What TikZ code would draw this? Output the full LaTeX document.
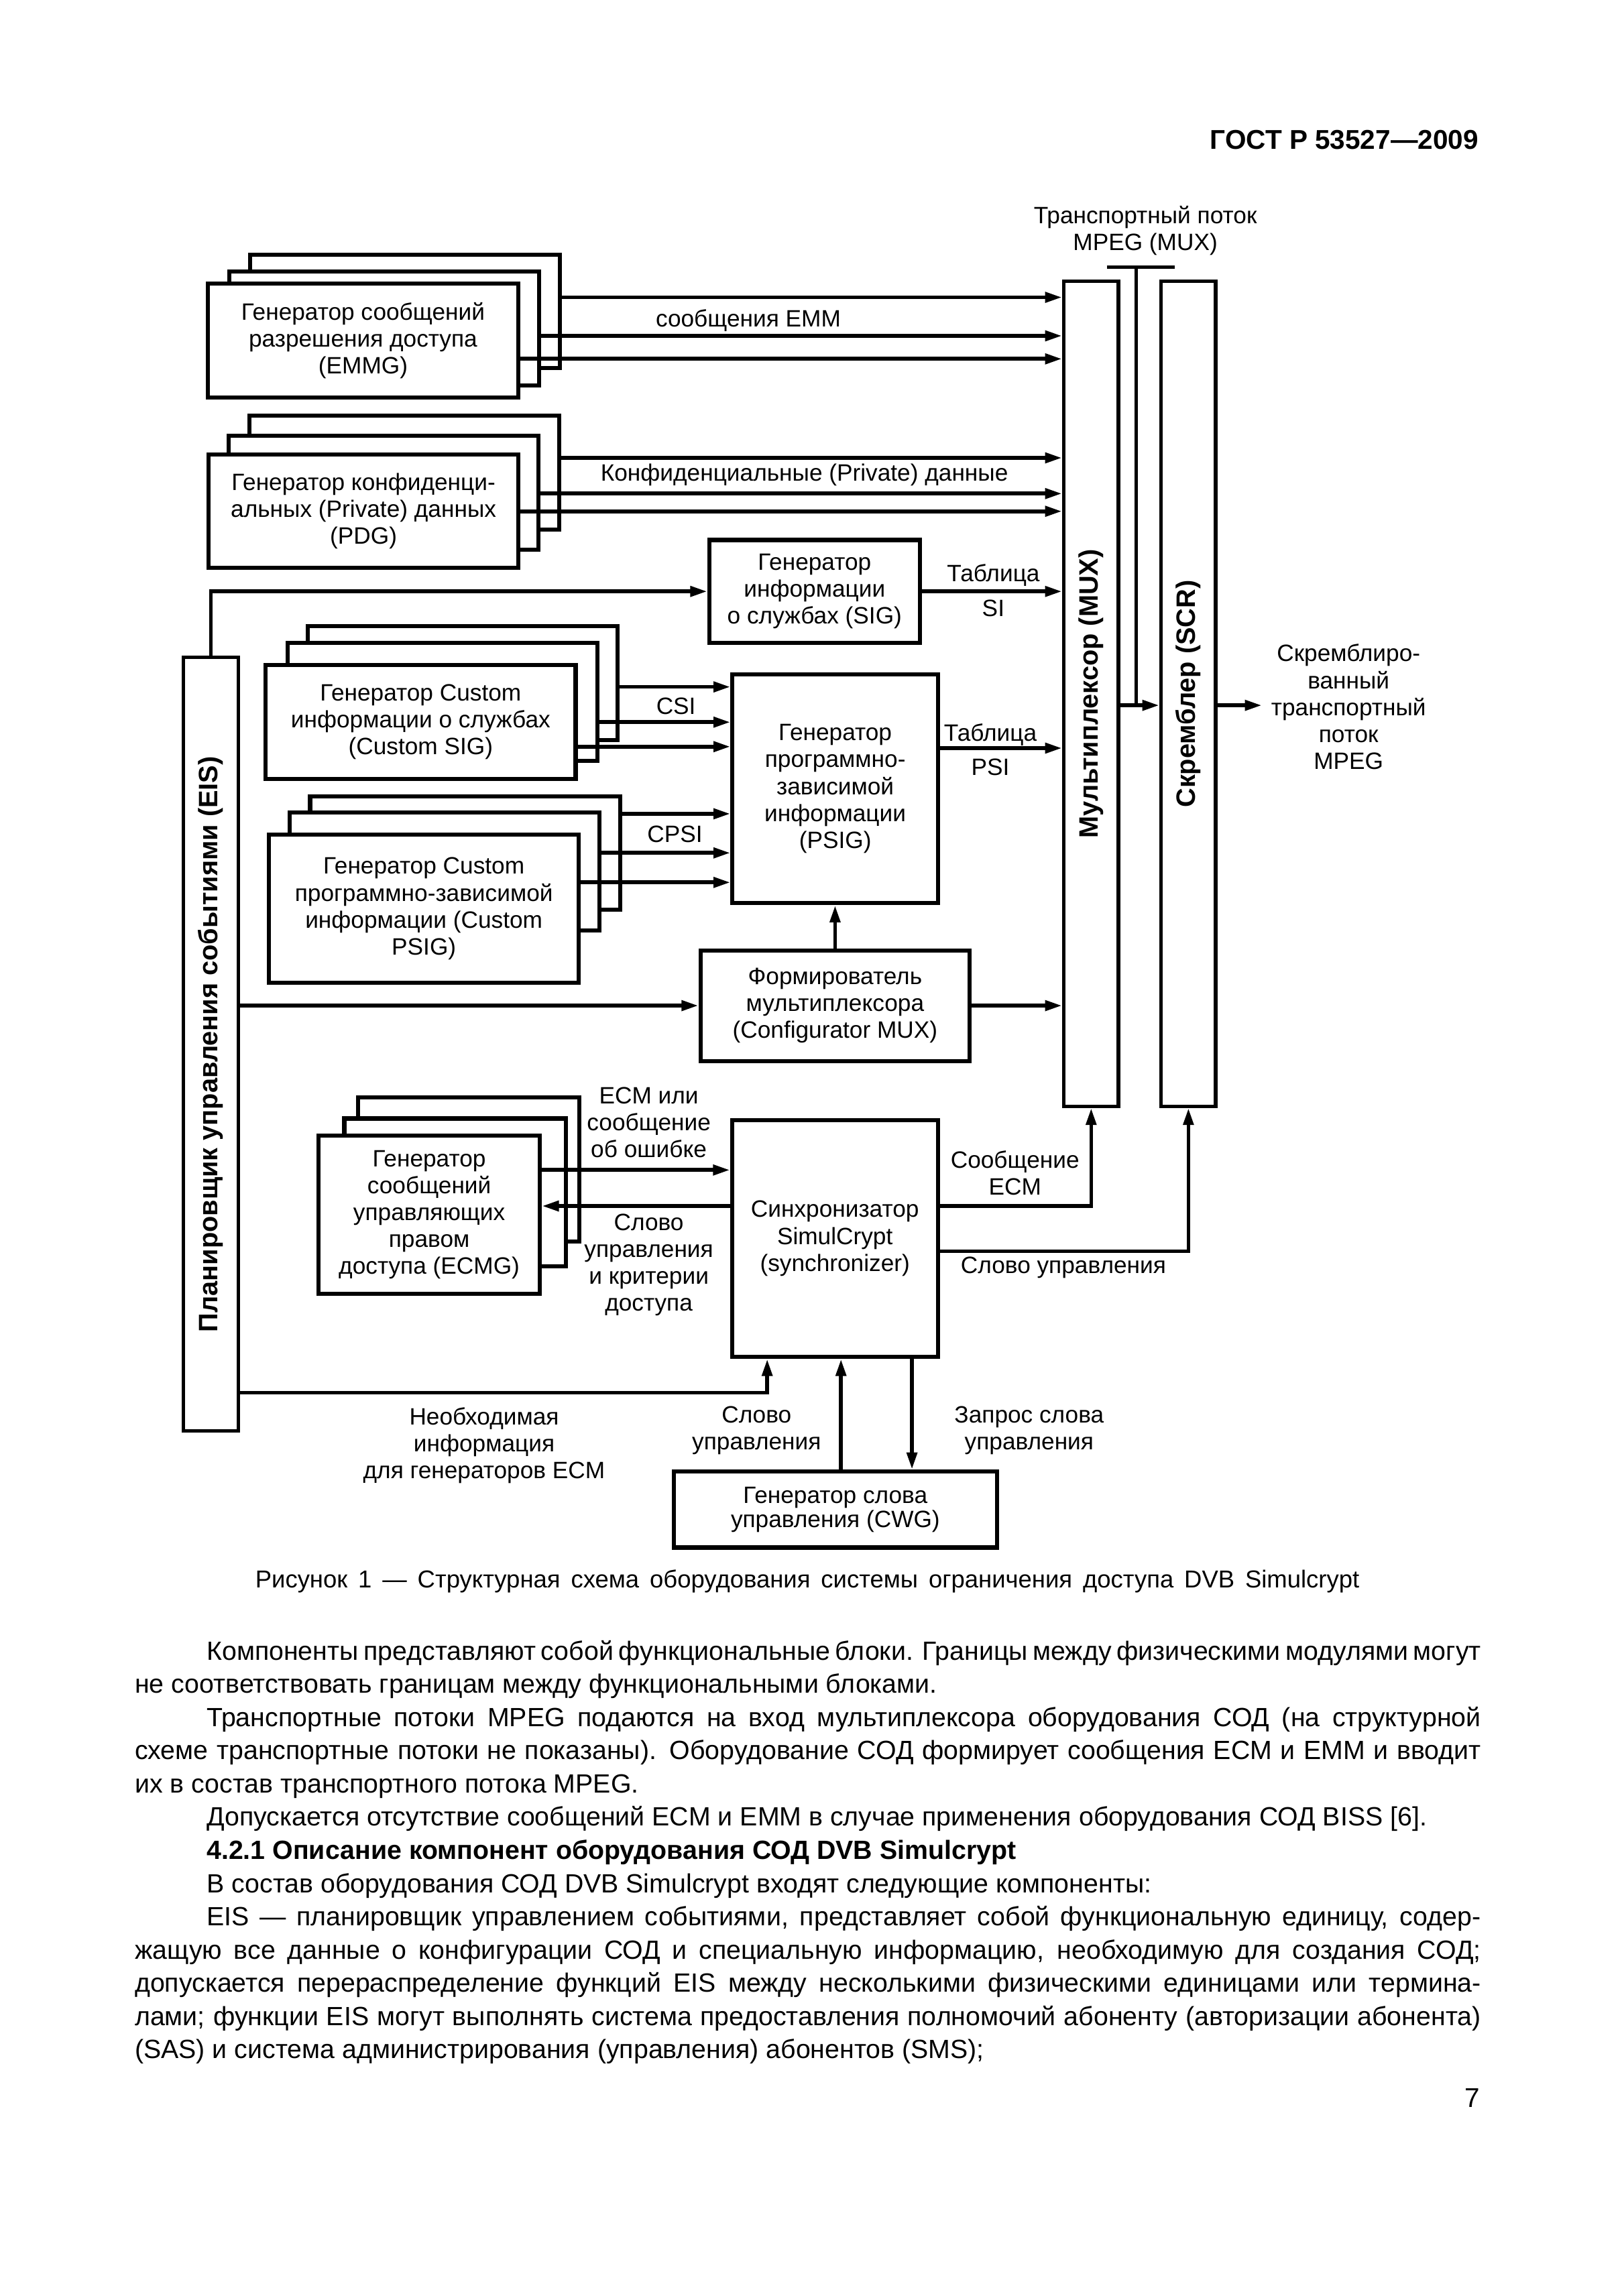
\documentclass[tikz,border=0pt]{standalone}
\usepackage{fontspec}
\setmainfont{Liberation Sans}
\usetikzlibrary{arrows.meta}
\newlength\px
\setlength\px{0.1909mm}
\newcommand\bodyfont{\fontsize{9.7}{12}\selectfont\spaceskip=0.278em plus 0.3em minus 0.2em\relax}
\tikzstyle{genBox} = [draw, rectangle, fill=white, line width=1.5pt, inner sep=0pt,
   minimum width=210\px, minimum height=77\px, align=center]
\tikzstyle{unitBox} = [draw, rectangle, fill=white, line width=1.5pt, inner sep=0pt, align=center]
\tikzstyle{barBox} = [draw, rectangle, line width=1.3pt, inner sep=0pt,
   minimum width=37\px, minimum height=559\px]
\tikzstyle{barText} = [rotate=90, inner sep=0pt, font=\fontsize{9.8}{11}\selectfont\bfseries]
\tikzstyle{sigLine} = [line width=1.4pt]
\tikzstyle{sigArrow} = [line width=1.4pt, -{Triangle[length=2.2mm,width=1.3mm]}]
\tikzstyle{lbl} = [align=center, inner sep=0pt]
\tikzstyle{body} = [anchor=base west, inner sep=0pt, font=\bodyfont]

\begin{document}
\begin{tikzpicture}[
  x=\px, y=-\px,
  font=\fontsize{8.7}{9.9}\selectfont,
  ]
  \useasboundingbox (0,0) rectangle (1100,1556);
  \node[anchor=base east, inner sep=0pt, font=\fontsize{10}{12}\selectfont\bfseries] (head) at (1002,101) {ГОСТ Р 53527—2009};

  % generators on the left
  \node[genBox] (emmgC) at (274.4,211) {};
  \node[genBox] (emmgB) at (260.3,222.6) {};
  \node[genBox] (emmg) at (246,230.7) {Генератор сообщений\\разрешения доступа\\(EMMG)};
  \node[genBox] (pdgC) at (274,320.2) {};
  \node[genBox] (pdgB) at (260,334) {};
  \node[genBox] (pdg) at (246.3,346.4) {Генератор конфиденци-\\альных (Private) данных\\(PDG)};
  \node[genBox] (csigC) at (313.5,462.9) {};
  \node[genBox, minimum height=80\px] (csigB) at (299.9,475.6) {};
  \node[genBox] (csig) at (285,489.2) {Генератор Custom\\информации о службах\\(Custom SIG)};
  \node[genBox] (cpsigC) at (315.1,578.1) {};
  \node[genBox, minimum height=80\px] (cpsigB) at (301.1,590.6) {};
  \node[genBox, minimum height=100\px] (cpsig) at (287.2,615.8) {Генератор Custom\\программно-зависимой\\информации (Custom\\PSIG)};
  \node[genBox, minimum width=150\px, minimum height=98\px] (ecmgC) at (317.7,792.5) {};
  \node[genBox, minimum width=150\px, minimum height=100\px] (ecmgB) at (308.3,808) {};
  \node[genBox, minimum width=150\px, minimum height=107\px] (ecmg) at (290.8,823.2) {Генератор\\сообщений\\управляющих\\правом\\доступа (ECMG)};

  % middle units
  \node[unitBox, minimum width=142.6\px, minimum height=69.7\px] (sig) at (551.9,400.8) {Генератор\\информации\\о службах (SIG)};
  \node[unitBox, minimum width=139.2\px, minimum height=155.3\px] (psig) at (565.9,534.5) {Генератор\\программно-\\зависимой\\информации\\(PSIG)};
  \node[unitBox, minimum width=182.4\px, minimum height=75\px] (cfg) at (565.8,681.5) {Формирователь\\мультиплексора\\(Configurator MUX)};
  \node[unitBox, minimum width=139.4\px, minimum height=160.6\px] (sync) at (565.7,839.3) {Синхронизатор\\SimulCrypt\\(synchronizer)};
  \node[unitBox, minimum width=219\px, minimum height=51.5\px, font=\fontsize{8.7}{9}\selectfont] (cwg) at (566,1023) {Генератор слова\\управления (CWG)};

  % tall bars
  \node[barBox] (mux) at (739.3,470.2) {};
  \node[barBox] (scr) at (805.2,470.2) {};
  \node[barBox, minimum height=524.3\px] (eis) at (142.9,707.7) {};
  \node[barText] at (mux) {Мультиплексор (MUX)};
  \node[barText] at (scr) {Скремблер (SCR)};
  \node[barText] at (eis) {Планировщик управления событиями (EIS)};

  % transport stream in and out
  \node[lbl] (tsTxt) at (776,156.4) {Транспортный поток\\MPEG (MUX)};
  \node[lbl] (outTxt) at (913.7,479) {Скремблиро-\\ванный\\транспортный\\поток\\MPEG};
  \coordinate (ts) at (770,181);
  \coordinate (out) at (855,478);
  \draw[sigLine] (750,181) -- (796,181);
  \draw[line width=1.2pt] (ts) -- (ts |- out);
  \draw[sigArrow] (mux.east |- out) -- (scr.west |- out);
  \draw[sigArrow] (scr.east |- out) -- (out);

  % into the multiplexer
  \draw[sigArrow] (emmgC.east |- 0,201.5) -- (mux.west |- 0,201.5);
  \draw[sigArrow] (emmgB.east |- 0,227.6) -- (mux.west |- 0,227.6);
  \draw[sigArrow] (emmg.east |- 0,243.2) -- (mux.west |- 0,243.2);
  \draw[sigArrow] (pdgC.east |- 0,310.3) -- (mux.west |- 0,310.3);
  \draw[sigArrow] (pdgB.east |- 0,334.5) -- (mux.west |- 0,334.5);
  \draw[sigArrow] (pdg.east |- 0,346.5) -- (mux.west |- 0,346.5);
  \draw[sigArrow] (sig.east) -- (sig.east -| mux.west);
  \draw[sigArrow] (psig.east |- 0,507) -- (mux.west |- 0,507);
  \draw[sigArrow] (cfg.east) -- (cfg.east -| mux.west);

  % into the PSI generator
  \draw[sigArrow] (csigC.east |- 0,465.5) -- (psig.west |- 0,465.5);
  \draw[sigArrow] (csigB.east |- 0,489.4) -- (psig.west |- 0,489.4);
  \draw[sigArrow] (csig.east |- 0,506) -- (psig.west |- 0,506);
  \draw[sigArrow] (cpsigC.east |- 0,551.5) -- (psig.west |- 0,551.5);
  \draw[sigArrow] (cpsigB.east |- 0,578) -- (psig.west |- 0,578);
  \draw[sigArrow] (cpsig.east |- 0,598) -- (psig.west |- 0,598);
  \draw[sigArrow] (cfg.north) -- (cfg.north |- psig.south);

  % from the event scheduler
  \draw[sigArrow] (eis.north) |- (sig.west);
  \draw[sigArrow] (eis.east |- cfg.west) -- (cfg.west);
  \draw[sigArrow] (eis.east |- 0,943.8) -| (519.8,0 |- sync.south);

  % synchronizer
  \draw[sigArrow] (ecmg.east |- 0,792.9) -- (sync.west |- 0,792.9);
  \draw[sigArrow] (sync.west |- 0,817.3) -- (ecmg.east |- 0,817.3);
  \draw[sigArrow] (sync.east |- 0,817.3) -| (mux.south);
  \draw[sigArrow] (sync.east |- 0,848) -| (scr.south);
  \draw[sigArrow] (569.8,0 |- cwg.north) -- (569.8,0 |- sync.south);
  \draw[sigArrow] (617.9,0 |- sync.south) -- (617.9,0 |- cwg.north);

  % connector labels
  \node[lbl] at (507,217) {сообщения EMM};
  \node[lbl] at (545,322) {Конфиденциальные (Private) данные};
  \node[lbl] at (673,390) {Таблица};
  \node[lbl] at (673,412) {SI};
  \node[lbl] at (671,498) {Таблица};
  \node[lbl] at (671,520) {PSI};
  \node[lbl] at (458,478.5) {CSI};
  \node[lbl] at (457.3,565.2) {CPSI};
  \node[lbl] at (439.6,760.7) {ECM или\\сообщение\\об ошибке};
  \node[lbl] at (439.6,857.3) {Слово\\управления\\и критерии\\доступа};
  \node[lbl] at (687.7,795) {Сообщение\\ECM};
  \node[lbl] at (720.5,859) {Слово управления};
  \node[lbl] at (328,979.7) {Необходимая\\информация\\для генераторов ECM};
  \node[lbl] at (512.6,969.5) {Слово\\управления};
  \node[lbl] at (697.3,969.5) {Запрос слова\\управления};

  % caption and page text
  \node[anchor=base, inner sep=0pt, font=\fontsize{9}{11}\selectfont] (cap) at (547,1076) {\makebox[748\px][s]{Рисунок 1 — Структурная схема оборудования системы ограничения доступа DVB Simulcrypt}};
  \node[body] at (139.7,1125) {\makebox[863.3\px][s]{Компоненты представляют собой функциональные блоки. Границы между физическими модулями могут}};
  \node[body] at (91,1147.5) {не соответствовать границам между функциональными блоками.};
  \node[body] at (139.7,1170) {\makebox[863.3\px][s]{Транспортные потоки MPEG подаются на вход мультиплексора оборудования СОД (на структурной}};
  \node[body] at (91,1192.5) {\makebox[912\px][s]{схеме транспортные потоки не показаны). Оборудование СОД формирует сообщения ECM и EMM и вводит}};
  \node[body] at (91,1215) {их в состав транспортного потока MPEG.};
  \node[body] at (139.7,1237.5) {Допускается отсутствие сообщений ECM и EMM в случае применения оборудования СОД BISS [6].};
  \node[body] at (139.7,1260) {\bfseries 4.2.1 Описание компонент оборудования СОД DVB Simulcrypt};
  \node[body] at (139.7,1282.5) {В состав оборудования СОД DVB Simulcrypt входят следующие компоненты:};
  \node[body] at (139.7,1305) {\makebox[863.3\px][s]{EIS — планировщик управлением событиями, представляет собой функциональную единицу, содер-}};
  \node[body] at (91,1327.5) {\makebox[912\px][s]{жащую все данные о конфигурации СОД и специальную информацию, необходимую для создания СОД;}};
  \node[body] at (91,1350) {\makebox[912\px][s]{допускается перераспределение функций EIS между несколькими физическими единицами или термина-}};
  \node[body] at (91,1372.5) {\makebox[912\px][s]{лами; функции EIS могут выполнять система предоставления полномочий абоненту (авторизации абонента)}};
  \node[body] at (91,1395) {(SAS) и система администрирования (управления) абонентов (SMS);};
  \node[anchor=base east, inner sep=0pt, font=\fontsize{10}{12}\selectfont] (pageNo) at (1003,1428) {7};
\end{tikzpicture}
\end{document}
